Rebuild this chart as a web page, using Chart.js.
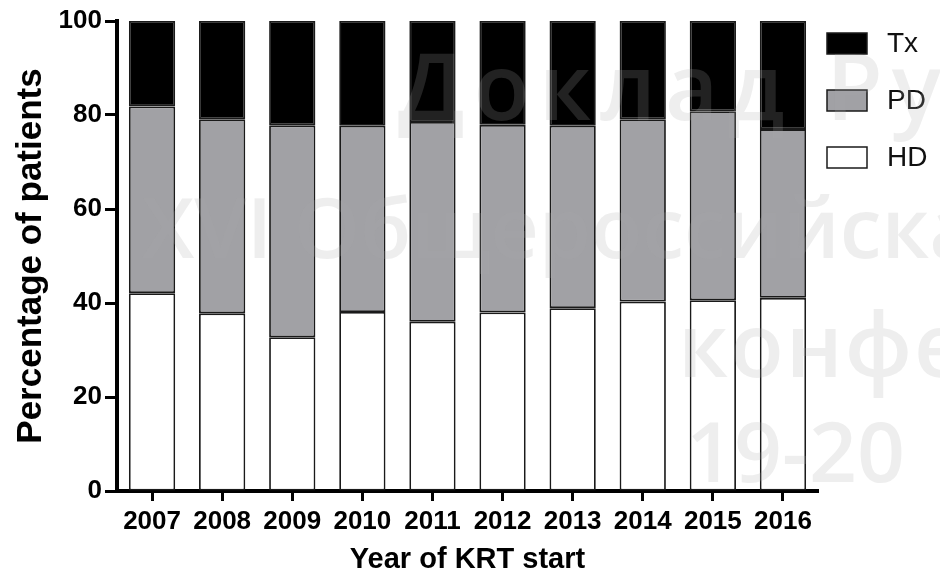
<!DOCTYPE html>
<html>
<head>
<meta charset="utf-8">
<script src="https://cdn.jsdelivr.net/npm/chart.js@4"></script>
<style>
  html, body { margin: 0; padding: 0; background: #fff; }
  #wrap { width: 940px; height: 577px; position: relative; }
</style>
</head>
<body>
<div id="wrap"><canvas id="barChart"></canvas></div>
<script>
// Modality at start of KRT by year — stacked percentage bars
(function () {
    "use strict";

    // --- Data -----------------------------------------------------------
    const years = ["2007", "2008", "2009", "2010", "2011", "2012", "2013", "2014", "2015", "2016"];
    const hdValues = [42.1, 37.8, 32.7, 38.1, 36.0, 38.0, 38.9, 40.3, 40.6, 41.1];
    const pdValues = [39.7, 41.3, 45.1, 39.6, 42.5, 39.9, 38.8, 38.8, 40.2, 35.9];
    const txValues = [18.2, 20.9, 22.2, 22.3, 21.5, 22.1, 22.3, 20.9, 19.2, 23.0];
    const yTicks = [0, 20, 40, 60, 80, 100];

    const watermarkLines = ["Доклад Ру", "XVI Общероссийска", "конфе", "19-20"];

    const FONT = "'Liberation Sans', Arial, Helvetica, sans-serif";

    function series(label, values, fill) {
        return {
            label: label,
            data: values,
            backgroundColor: fill,
            borderColor: "#1a1a1a",
            borderWidth: 1.8,
            borderSkipped: false,
            barPercentage: 0.66,
            categoryPercentage: 1.0
        };
    }

    // Legend on the right, top-down in reverse stack order (Tx, PD, HD)
    const sideLegend = {
        id: "sideLegend",
        afterDraw(chart) {
            const ctx = chart.ctx;
            const items = chart.data.datasets.slice().reverse();
            ctx.save();
            ctx.font = "28px " + FONT;
            ctx.textBaseline = "middle";
            items.forEach((ds, i) => {
                const top = 33 + i * 57;
                ctx.fillStyle = ds.backgroundColor;
                ctx.fillRect(827, top, 40, 21);
                ctx.lineWidth = 1.5;
                ctx.strokeStyle = "#1a1a1a";
                ctx.strokeRect(827, top, 40, 21);
                ctx.fillStyle = "#111";
                ctx.fillText(ds.label, 887, top + 11);
            });
            ctx.restore();
        }
    };

    // Faint conference watermark laid over the picture
    const watermark = {
        id: "watermark",
        afterDraw(chart) {
            const ctx = chart.ctx;
            // [x, baseline, size, letter spacing]
            const spots = [[398, 120, 92, 9], [142, 258, 84, 0], [678, 377, 88, 2], [686, 482, 84, 0]];
            ctx.save();
            ctx.fillStyle = "rgba(170,170,170,0.2)";
            ctx.textBaseline = "alphabetic";
            watermarkLines.forEach((t, i) => {
                const s = spots[i];
                ctx.font = "600 " + s[2] + "px 'Open Sans', 'Noto Sans', sans-serif";
                ctx.letterSpacing = s[3] + "px";
                ctx.fillText(t, s[0], s[1]);
            });
            ctx.restore();
        }
    };

    const ctx = document.getElementById("barChart").getContext("2d");

    new Chart(ctx, {
        type: "bar",
        data: {
            labels: years,
            datasets: [
                series("HD", hdValues, "#ffffff"),
                series("PD", pdValues, "#a1a1a5"),
                series("Tx", txValues, "#000000")
            ]
        },
        options: {
            responsive: true,
            maintainAspectRatio: false,
            animation: false,
            layout: { padding: { top: 21, right: 122, bottom: 0, left: 0 } },
            scales: {
                x: {
                    stacked: true,
                    afterFit: function (s) { s.height = 86; },
                    grid: {
                        offset: false,
                        drawOnChartArea: false,
                        drawTicks: true,
                        tickLength: 10,
                        tickWidth: 3,
                        tickColor: "#000"
                    },
                    border: { display: true, color: "#000", width: 4 },
                    ticks: {
                        color: "#000",
                        padding: 5,
                        maxRotation: 0,
                        font: { family: FONT, size: 26, weight: "bold" }
                    },
                    title: {
                        display: true,
                        text: "Year of KRT start",
                        color: "#000",
                        padding: { top: 0, bottom: 0 },
                        font: { family: FONT, size: 29, weight: "bold" }
                    }
                },
                y: {
                    stacked: true,
                    min: 0,
                    max: 100,
                    afterFit: function (s) { s.width = 117; },
                    afterBuildTicks: function (s) { s.ticks = yTicks.map(v => ({ value: v })); },
                    grid: {
                        drawOnChartArea: false,
                        drawTicks: true,
                        tickLength: 12,
                        tickWidth: 3,
                        tickColor: "#000"
                    },
                    border: { display: true, color: "#000", width: 4 },
                    ticks: {
                        color: "#000",
                        padding: 3,
                        font: { family: FONT, size: 26, weight: "bold" }
                    },
                    title: {
                        display: true,
                        text: "Percentage of patients",
                        color: "#000",
                        padding: { top: 10, bottom: 0 },
                        font: { family: FONT, size: 35, weight: "bold" }
                    }
                }
            },
            plugins: {
                legend: { display: false },
                tooltip: { enabled: false }
            }
        },
        plugins: [sideLegend, watermark]
    });
})();
</script>
</body>
</html>
